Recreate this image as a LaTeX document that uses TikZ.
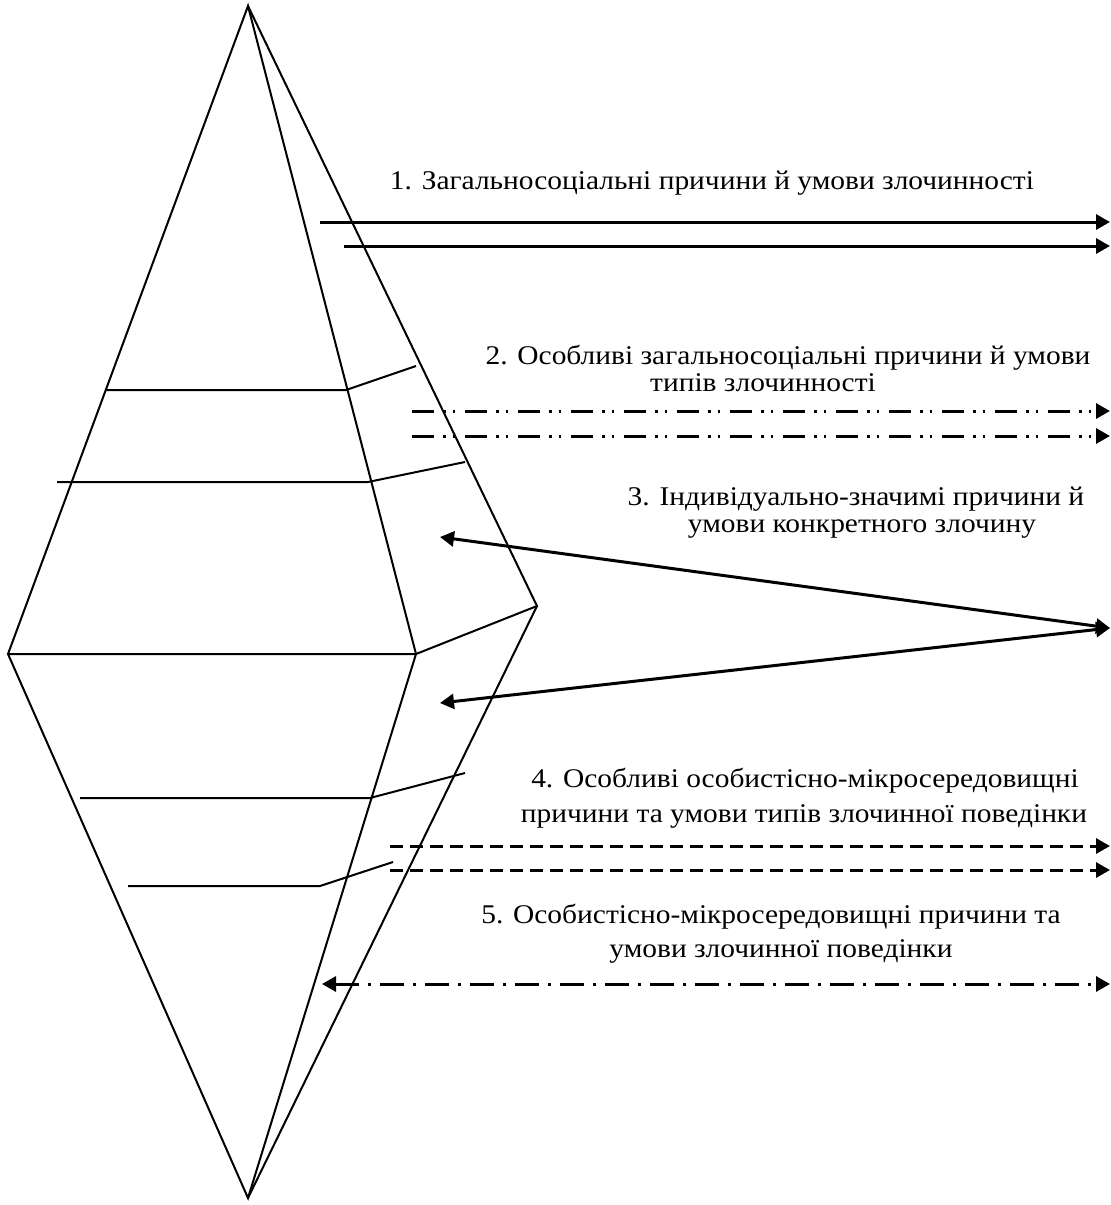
\documentclass[tikz,border=0pt]{standalone}
\usepackage{fontspec}
\setmainfont{Liberation Serif}
\usetikzlibrary{arrows.meta}
\newcommand{\wtxt}[1]{\scalebox{1.09}[1]{#1}}
\begin{document}
\begin{tikzpicture}[x=1bp,y=-1bp,
  edge/.style={line width=2bp, line join=miter},
  tipped/.style={-{Triangle[length=14bp,width=15bp]}},
  both/.style={{Triangle[length=14bp,width=15bp]}-{Triangle[length=14bp,width=15bp]}},
  lbl/.style={font=\fontsize{27bp}{31bp}\selectfont, inner sep=0pt, anchor=base},
  arrline/.style={line width=3bp},
  ddot/.style={dash pattern=on 22bp off 9bp on 2.5bp off 7bp on 2.5bp off 10bp},
  ldash/.style={dash pattern=on 13bp off 7bp},
  dashdot/.style={dash pattern=on 24bp off 9bp on 3bp off 9bp}]
\useasboundingbox (0,0) rectangle (1111,1205);
% pyramid points
\coordinate (top) at (248,6);
\coordinate (bot) at (248,1198);
\coordinate (lft) at (8,654);
\coordinate (mid) at (416,654);
\coordinate (rgt) at (537,606);
\draw[edge] (lft) -- (top) -- (mid) -- (bot) -- cycle;
\draw[edge] (top) -- (rgt) -- (bot);
\draw[edge] (lft) -- (mid) -- (rgt);
% layers
\draw[edge] (105,390) -- (346,390) -- (416,366);
\draw[edge] (57,482) -- (368,482) -- (465,462);
\draw[edge] (80,798) -- (370,798) -- (465,773);
\draw[edge] (128,886) -- (320,886) -- (393,862);
% arrow ends
\coordinate (a1s) at (320,222); \coordinate (a1e) at (1110,222);
\coordinate (b1s) at (344,246); \coordinate (b1e) at (1110,246);
\coordinate (a2s) at (412,411); \coordinate (a2e) at (1110,411);
\coordinate (b2s) at (412,436); \coordinate (b2e) at (1110,436);
\coordinate (c3) at (1110,628);
\coordinate (a3) at (440,537); \coordinate (b3) at (440,703);
\coordinate (a4s) at (390,846); \coordinate (a4e) at (1110,846);
\coordinate (b4s) at (390,870); \coordinate (b4e) at (1110,870);
\coordinate (a5s) at (322,984); \coordinate (a5e) at (1110,984);
\draw[arrline,tipped] (a1s) -- (a1e);
\draw[arrline,tipped] (b1s) -- (b1e);
\draw[arrline,tipped,ddot] (a2s) -- (a2e);
\draw[arrline,tipped,ddot] (b2s) -- (b2e);
\draw[arrline,both] (a3) -- (c3);
\draw[arrline,both] (b3) -- (c3);
\draw[arrline,tipped,ldash] (a4s) -- (a4e);
\draw[arrline,tipped,ldash] (b4s) -- (b4e);
\draw[arrline,both,dashdot] (a5s) -- (a5e);
% labels
\node[lbl] (t1) at (712,189) {\wtxt{1. Загальносоціальні причини й умови злочинності}};
\node[lbl] (t2a) at (788,364) {\wtxt{2. Особливі загальносоціальні причини й умови}};
\node[lbl] (t2b) at (763,391) {\wtxt{типів злочинності}};
\node[lbl] (t3a) at (856,505) {\wtxt{3. Індивідуально-значимі причини й}};
\node[lbl] (t3b) at (862,532) {\wtxt{умови конкретного злочину}};
\node[lbl] (t4a) at (805,787) {\wtxt{4. Особливі особистісно-мікросередовищні}};
\node[lbl] (t4b) at (804,822) {\wtxt{причини та умови типів злочинної поведінки}};
\node[lbl] (t5a) at (771,923) {\wtxt{5. Особистісно-мікросередовищні причини та}};
\node[lbl] (t5b) at (781,957) {\wtxt{умови злочинної поведінки}};
\end{tikzpicture}
\end{document}
